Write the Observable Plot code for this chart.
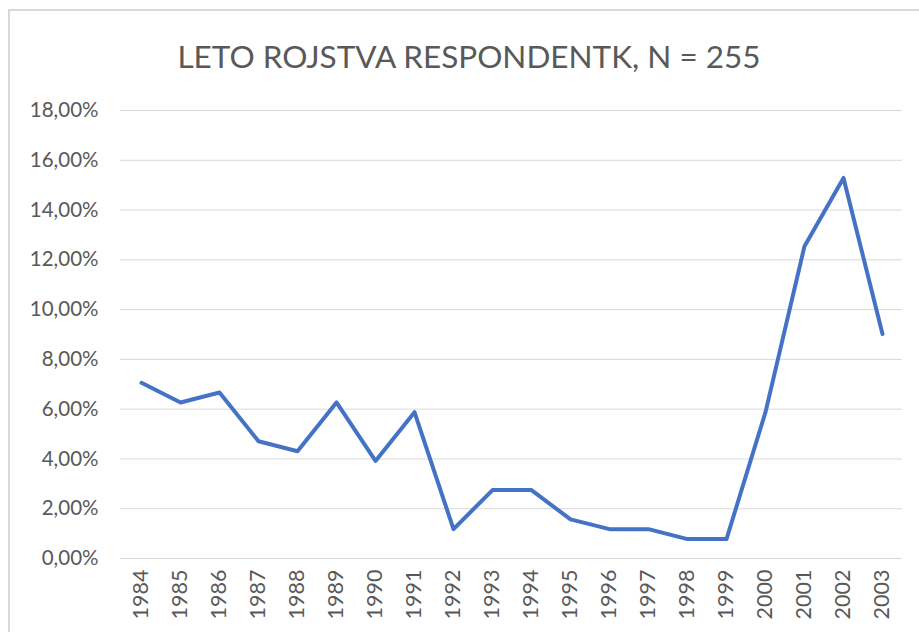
<!DOCTYPE html>
<html>
<head>
<meta charset="utf-8">
<script src="https://cdn.jsdelivr.net/npm/d3@7"></script>
<script src="https://cdn.jsdelivr.net/npm/@observablehq/plot@0.6"></script>
<style>
  html, body { margin: 0; padding: 0; background: #fff; }
  #wrap { position: relative; width: 919px; height: 632px; overflow: hidden; background: #fff; }
  #frame { position: absolute; left: 8px; top: 9px; width: 1000px; height: 700px; border-left: 2px solid #d9d9d9; border-top: 2px solid #d9d9d9; }
  #title { position: absolute; left: 0; top: 37px; width: 938px; text-align: center; font-family: Lato, sans-serif; font-weight: 400; font-size: 31.5px; color: #595959; white-space: nowrap; }
  #chart { position: absolute; left: 0; top: 90px; }
</style>
</head>
<body>
<div id="wrap">
  <div id="frame"></div>
  <div id="title">LETO ROJSTVA RESPONDENTK, N = 255</div>
  <div id="chart"></div>
</div>
<script>
const years = ["1984","1985","1986","1987","1988","1989","1990","1991","1992","1993","1994","1995","1996","1997","1998","1999","2000","2001","2002","2003"];
const percents = [7.06, 6.27, 6.67, 4.71, 4.31, 6.27, 3.92, 5.88, 1.18, 2.75, 2.75, 1.57, 1.18, 1.18, 0.78, 0.78, 5.88, 12.55, 15.29, 9.02];
const yTicks = [0, 2, 4, 6, 8, 10, 12, 14, 16, 18];

const data = years.map((y, i) => ({year: y, pct: percents[i]}));
const fmt = d => d.toFixed(2).replace(".", ",") + "%";

const chart = Plot.plot({
  width: 919,
  height: 542,
  marginLeft: 120,
  marginRight: 17,
  marginTop: 20,
  marginBottom: 74,
  style: {fontFamily: "Lato, sans-serif", fontSize: "17px", color: "#595959", background: "transparent"},
  x: {type: "point", domain: years, padding: 0.5, label: null},
  y: {domain: [0, 18], ticks: yTicks, label: null},
  marks: [
    Plot.gridY(yTicks, {stroke: "#d9d9d9", strokeOpacity: 1, strokeWidth: 1}),
    Plot.axisY(yTicks, {tickSize: 0, tickPadding: 22, tickFormat: fmt, fill: "#595959", fontSize: 20.5}),
    Plot.axisX({tickSize: 0, tickPadding: 11, tickRotate: -90, fill: "#595959", fontSize: 21.5}),
    Plot.line(data, {x: "year", y: "pct", stroke: "#4472C4", strokeWidth: 4, strokeLinejoin: "round", strokeLinecap: "round"})
  ]
});
document.getElementById("chart").appendChild(chart);
</script>
</body>
</html>
